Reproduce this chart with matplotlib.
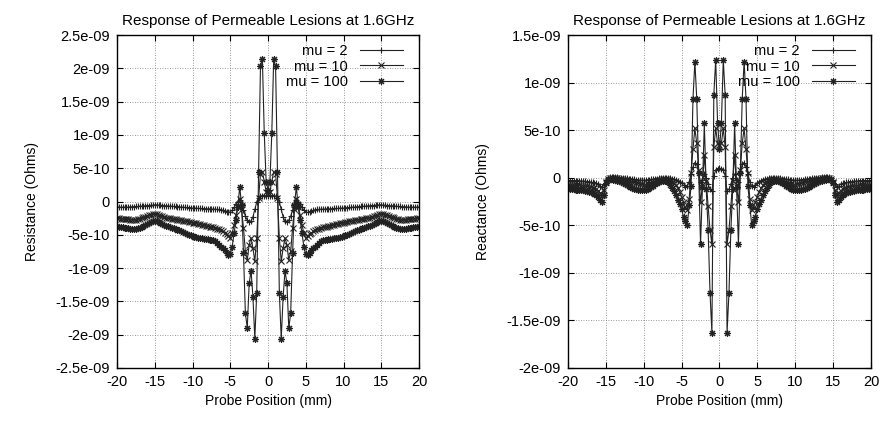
import numpy as np
import matplotlib
matplotlib.use("Agg")
import matplotlib.pyplot as plt
from matplotlib.ticker import FuncFormatter, MultipleLocator

plt.rcParams['font.family'] = ['Liberation Sans', 'DejaVu Sans']
plt.rcParams['axes.unicode_minus'] = False

# probe position (mm), 0.25 mm steps from -20 to 20
position = np.linspace(-20, 20, 161)

series_labels = ["mu = 2", "mu = 10", "mu = 100"]

# resistance, in units of 1e-10 Ohm
res_mu2 = [
    -0.85, -0.85, -0.85, -0.85, -0.85, -0.85, -0.85, -0.8, -0.8, -0.8, -0.75, -0.75, -0.7, -0.7, -0.65, -0.65, -0.6, -0.6, -0.55, -0.55,
    -0.5, -0.5, -0.55, -0.55, -0.6, -0.6, -0.65, -0.65, -0.7, -0.7, -0.75, -0.75, -0.8, -0.8, -0.85, -0.85, -0.9, -0.9, -0.95, -0.95,
    -1.0, -1.0, -1.0, -1.05, -1.05, -1.05, -1.1, -1.1, -1.1, -1.1, -1.15, -1.15, -1.15, -1.2, -1.2, -1.3, -1.35, -1.45, -1.6, -1.65,
    -1.55, -1.3, -0.9, -0.4, 0.0, 0.2, -0.4, -1.3, -2.2, -2.8, -3.1, -3.0, -2.3, -1.2, -0.1, 0.5, 0.8, 0.9, 0.9, 0.85,
    0.8,
    0.85, 0.9, 0.9, 0.8, 0.5, -0.1, -1.2, -2.3, -3.0, -3.1, -2.8, -2.2, -1.3, -0.4, 0.2, 0.0, -0.4, -0.9, -1.3, -1.55,
    -1.65, -1.6, -1.45, -1.35, -1.3, -1.2, -1.2, -1.15, -1.15, -1.15, -1.1, -1.1, -1.1, -1.1, -1.05, -1.05, -1.05, -1.0, -1.0, -1.0,
    -0.95, -0.95, -0.9, -0.9, -0.85, -0.85, -0.8, -0.8, -0.75, -0.75, -0.7, -0.7, -0.65, -0.65, -0.6, -0.6, -0.55, -0.55, -0.5, -0.5,
    -0.55, -0.55, -0.6, -0.6, -0.65, -0.65, -0.7, -0.7, -0.75, -0.75, -0.8, -0.8, -0.8, -0.85, -0.85, -0.85, -0.85, -0.85, -0.85, -0.85,
]
res_mu10 = [
    -2.5, -2.55, -2.6, -2.6, -2.65, -2.7, -2.7, -2.75, -2.75, -2.75, -2.75, -2.7, -2.6, -2.5, -2.4, -2.3, -2.2, -2.1, -2.0, -1.95,
    -1.9, -1.95, -2.05, -2.15, -2.25, -2.35, -2.45, -2.5, -2.55, -2.6, -2.65, -2.7, -2.75, -2.8, -2.85, -2.9, -2.95, -3.0, -3.05, -3.1,
    -3.2, -3.25, -3.3, -3.4, -3.45, -3.5, -3.6, -3.65, -3.7, -3.8, -3.85, -3.9, -4.0, -4.1, -4.2, -4.3, -4.5, -4.7, -4.9, -5.2,
    -5.5, -4.8, -3.5, -2.0, -0.7, 0.4, -1.2, -4.0, -7.5, -8.8, -6.5, -5.5, -7.0, -9.0, -5.5, 0.5, 4.2, 4.5, 3.0, 1.5,
    1.2,
    1.5, 3.0, 4.5, 4.2, 0.5, -5.5, -9.0, -7.0, -5.5, -6.5, -8.8, -7.5, -4.0, -1.2, 0.4, -0.7, -2.0, -3.5, -4.8, -5.5,
    -5.2, -4.9, -4.7, -4.5, -4.3, -4.2, -4.1, -4.0, -3.9, -3.85, -3.8, -3.7, -3.65, -3.6, -3.5, -3.45, -3.4, -3.3, -3.25, -3.2,
    -3.1, -3.05, -3.0, -2.95, -2.9, -2.85, -2.8, -2.75, -2.7, -2.65, -2.6, -2.55, -2.5, -2.45, -2.35, -2.25, -2.15, -2.05, -1.95, -1.9,
    -1.95, -2.0, -2.1, -2.2, -2.3, -2.4, -2.5, -2.6, -2.7, -2.75, -2.75, -2.75, -2.75, -2.7, -2.7, -2.65, -2.6, -2.6, -2.55, -2.5,
]
res_mu100 = [
    -3.75, -3.8, -3.85, -3.9, -3.95, -4.0, -4.05, -4.1, -4.1, -4.1, -4.1, -4.05, -3.95, -3.8, -3.65, -3.5, -3.35, -3.2, -3.1, -3.0,
    -2.95, -3.0, -3.15, -3.3, -3.45, -3.55, -3.65, -3.75, -3.85, -3.95, -4.05, -4.15, -4.25, -4.35, -4.45, -4.55, -4.7, -4.85, -5.0, -5.1,
    -5.2, -5.3, -5.35, -5.45, -5.5, -5.55, -5.6, -5.65, -5.7, -5.75, -5.8, -5.85, -6.0, -6.3, -6.6, -6.8, -7.0, -7.3, -7.7, -8.0,
    -7.9, -6.8, -4.8, -2.8, -0.8, 2.2, -0.5, -7.8, -16.8, -19.0, -12.3, -10.4, -14.3, -20.6, -13.8, 4.5, 20.3, 21.4, 10.3, 3.0,
    1.8,
    3.0, 10.3, 21.4, 20.3, 4.5, -13.8, -20.6, -14.3, -10.4, -12.3, -19.0, -16.8, -7.8, -0.5, 2.2, -0.8, -2.8, -4.8, -6.8, -7.9,
    -8.0, -7.7, -7.3, -7.0, -6.8, -6.6, -6.3, -6.0, -5.85, -5.8, -5.75, -5.7, -5.65, -5.6, -5.55, -5.5, -5.45, -5.35, -5.3, -5.2,
    -5.1, -5.0, -4.85, -4.7, -4.55, -4.45, -4.35, -4.25, -4.15, -4.05, -3.95, -3.85, -3.75, -3.65, -3.55, -3.45, -3.3, -3.15, -3.0, -2.95,
    -3.0, -3.1, -3.2, -3.35, -3.5, -3.65, -3.8, -3.95, -4.05, -4.1, -4.1, -4.1, -4.1, -4.05, -4.0, -3.95, -3.9, -3.85, -3.8, -3.75,
]

# reactance, in units of 1e-10 Ohm
rea_mu2 = [
    -0.3, -0.3, -0.3, -0.3, -0.3, -0.3, -0.3, -0.35, -0.35, -0.35, -0.4, -0.4, -0.45, -0.5, -0.55, -0.6, -0.7, -0.85, -1.0, -0.7,
    -0.2, 0.0, 0.05, 0.05, 0.05, 0.05, 0.05, 0.0, 0.0, 0.0, -0.05, -0.05, -0.1, -0.1, -0.15, -0.15, -0.2, -0.2, -0.25, -0.25,
    -0.25, -0.25, -0.2, -0.2, -0.15, -0.15, -0.1, -0.1, -0.05, -0.05, 0.0, 0.0, 0.0, 0.0, -0.05, -0.1, -0.15, -0.2, -0.3, -0.4,
    -0.6, -0.8, -0.95, -0.9, -0.4, 0.4, 1.1, 1.6, 1.4, 0.5, -0.4, -0.2, 0.4, 0.0, -0.7, -1.2, -1.4, 0.2, 0.8, 0.95,
    1.0,
    0.95, 0.8, 0.2, -1.4, -1.2, -0.7, 0.0, 0.4, -0.2, -0.4, 0.5, 1.4, 1.6, 1.1, 0.4, -0.4, -0.9, -0.95, -0.8, -0.6,
    -0.4, -0.3, -0.2, -0.15, -0.1, -0.05, 0.0, 0.0, 0.0, 0.0, -0.05, -0.05, -0.1, -0.1, -0.15, -0.15, -0.2, -0.2, -0.25, -0.25,
    -0.25, -0.25, -0.2, -0.2, -0.15, -0.15, -0.1, -0.1, -0.05, -0.05, 0.0, 0.0, 0.0, 0.05, 0.05, 0.05, 0.05, 0.05, 0.0, -0.2,
    -0.7, -1.0, -0.85, -0.7, -0.6, -0.55, -0.5, -0.45, -0.4, -0.4, -0.35, -0.35, -0.35, -0.3, -0.3, -0.3, -0.3, -0.3, -0.3, -0.3,
]
rea_mu10 = [
    -0.8, -0.8, -0.8, -0.8, -0.8, -0.8, -0.8, -0.85, -0.85, -0.9, -0.9, -0.95, -1.0, -1.05, -1.1, -1.2, -1.35, -1.6, -1.8, -1.3,
    -0.5, -0.1, 0.0, 0.0, 0.0, 0.0, -0.05, -0.1, -0.15, -0.2, -0.25, -0.3, -0.35, -0.4, -0.45, -0.5, -0.55, -0.6, -0.65, -0.7,
    -0.75, -0.75, -0.7, -0.65, -0.6, -0.5, -0.4, -0.3, -0.25, -0.2, -0.15, -0.15, -0.15, -0.2, -0.3, -0.45, -0.6, -0.8, -1.1, -1.5,
    -2.0, -2.6, -3.1, -3.4, -2.2, 0.5, 3.0, 5.2, 3.6, 0.8, -2.6, -0.8, 2.4, -0.3, -3.0, -5.5, -7.0, 3.2, 5.2, 3.6,
    3.4,
    3.6, 5.2, 3.2, -7.0, -5.5, -3.0, -0.3, 2.4, -0.8, -2.6, 0.8, 3.6, 5.2, 3.0, 0.5, -2.2, -3.4, -3.1, -2.6, -2.0,
    -1.5, -1.1, -0.8, -0.6, -0.45, -0.3, -0.2, -0.15, -0.15, -0.15, -0.2, -0.25, -0.3, -0.4, -0.5, -0.6, -0.65, -0.7, -0.75, -0.75,
    -0.7, -0.65, -0.6, -0.55, -0.5, -0.45, -0.4, -0.35, -0.3, -0.25, -0.2, -0.15, -0.1, -0.05, 0.0, 0.0, 0.0, 0.0, -0.1, -0.5,
    -1.3, -1.8, -1.6, -1.35, -1.2, -1.1, -1.05, -1.0, -0.95, -0.9, -0.9, -0.85, -0.85, -0.8, -0.8, -0.8, -0.8, -0.8, -0.8, -0.8,
]
rea_mu100 = [
    -1.2, -1.2, -1.2, -1.2, -1.25, -1.25, -1.25, -1.3, -1.3, -1.35, -1.4, -1.45, -1.5, -1.6, -1.7, -1.85, -2.05, -2.3, -2.5, -1.8,
    -0.6, -0.2, -0.15, -0.15, -0.2, -0.25, -0.3, -0.35, -0.45, -0.55, -0.65, -0.75, -0.85, -0.95, -1.05, -1.15, -1.2, -1.25, -1.3, -1.3,
    -1.3, -1.25, -1.2, -1.1, -1.0, -0.85, -0.7, -0.55, -0.45, -0.35, -0.3, -0.3, -0.35, -0.5, -0.75, -1.05, -1.4, -1.8, -2.3, -2.8,
    -3.3, -4.1, -4.5, -4.95, -2.9, -0.9, 8.3, 12.2, 8.3, 0.5, -7.0, -1.0, 5.7, -1.2, -5.5, -12.1, -16.3, 8.7, 12.4, 5.7,
    3.0,
    5.7, 12.4, 8.7, -16.3, -12.1, -5.5, -1.2, 5.7, -1.0, -7.0, 0.5, 8.3, 12.2, 8.3, -0.9, -2.9, -4.95, -4.5, -4.1, -3.3,
    -2.8, -2.3, -1.8, -1.4, -1.05, -0.75, -0.5, -0.35, -0.3, -0.3, -0.35, -0.45, -0.55, -0.7, -0.85, -1.0, -1.1, -1.2, -1.25, -1.3,
    -1.3, -1.3, -1.25, -1.2, -1.15, -1.05, -0.95, -0.85, -0.75, -0.65, -0.55, -0.45, -0.35, -0.3, -0.25, -0.2, -0.15, -0.15, -0.2, -0.6,
    -1.8, -2.5, -2.3, -2.05, -1.85, -1.7, -1.6, -1.5, -1.45, -1.4, -1.35, -1.3, -1.3, -1.25, -1.25, -1.25, -1.2, -1.2, -1.2, -1.2,
]

markers = ['+', 'x', (8, 2, 0)]


def gformat(v, pos):
    if abs(v) < 1e-15:
        return "0"
    return format(v, 'g')


def setup(ax, ylo, yhi, ylabel):
    ax.set_xlim(-20, 20)
    ax.set_ylim(ylo, yhi)
    ax.xaxis.set_major_locator(MultipleLocator(5))
    ax.yaxis.set_major_locator(MultipleLocator(5e-10))
    ax.yaxis.set_major_formatter(FuncFormatter(gformat))
    ax.tick_params(direction='in', length=4, width=0.8, top=True, right=True,
                   labelsize=10.5, pad=5)
    ax.grid(True, linestyle=(0, (1, 2)), color='#777777', linewidth=0.6)
    for s in ax.spines.values():
        s.set_linewidth(1.0)
    ax.set_xlabel("Probe Position (mm)", fontsize=10, labelpad=4)
    ax.set_ylabel(ylabel, fontsize=10, labelpad=12)
    ax.set_title("Response of Permeable Lesions at 1.6GHz", fontsize=11, pad=7)


fig = plt.figure(figsize=(8.84, 4.22), dpi=100)
ax1 = fig.add_axes([0.1324, 0.128, 0.3416, 0.789])
ax2 = fig.add_axes([0.6425, 0.128, 0.3428, 0.789])

for ax, data in ((ax1, (res_mu2, res_mu10, res_mu100)),
                 (ax2, (rea_mu2, rea_mu10, rea_mu100))):
    for vals, mk, lab in zip(data, markers, series_labels):
        ax.plot(position, np.array(vals) * 1e-10, color='#222222', linewidth=0.8,
                marker=mk, markersize=5, markeredgewidth=0.8, label=lab)

setup(ax1, -2.5e-9, 2.5e-9, "Resistance (Ohms)")
setup(ax2, -2e-9, 1.5e-9, "Reactance (Ohms)")

for ax in (ax1, ax2):
    leg = ax.legend(loc='upper right', bbox_to_anchor=(0.965, 0.988), frameon=False,
                    markerfirst=False, fontsize=10.5, handlelength=3.0,
                    labelspacing=0.1, borderaxespad=0.05, borderpad=0.3,
                    handletextpad=0.8)
    leg._legend_box.align = "right"

fig.savefig("out.png", dpi=100)
